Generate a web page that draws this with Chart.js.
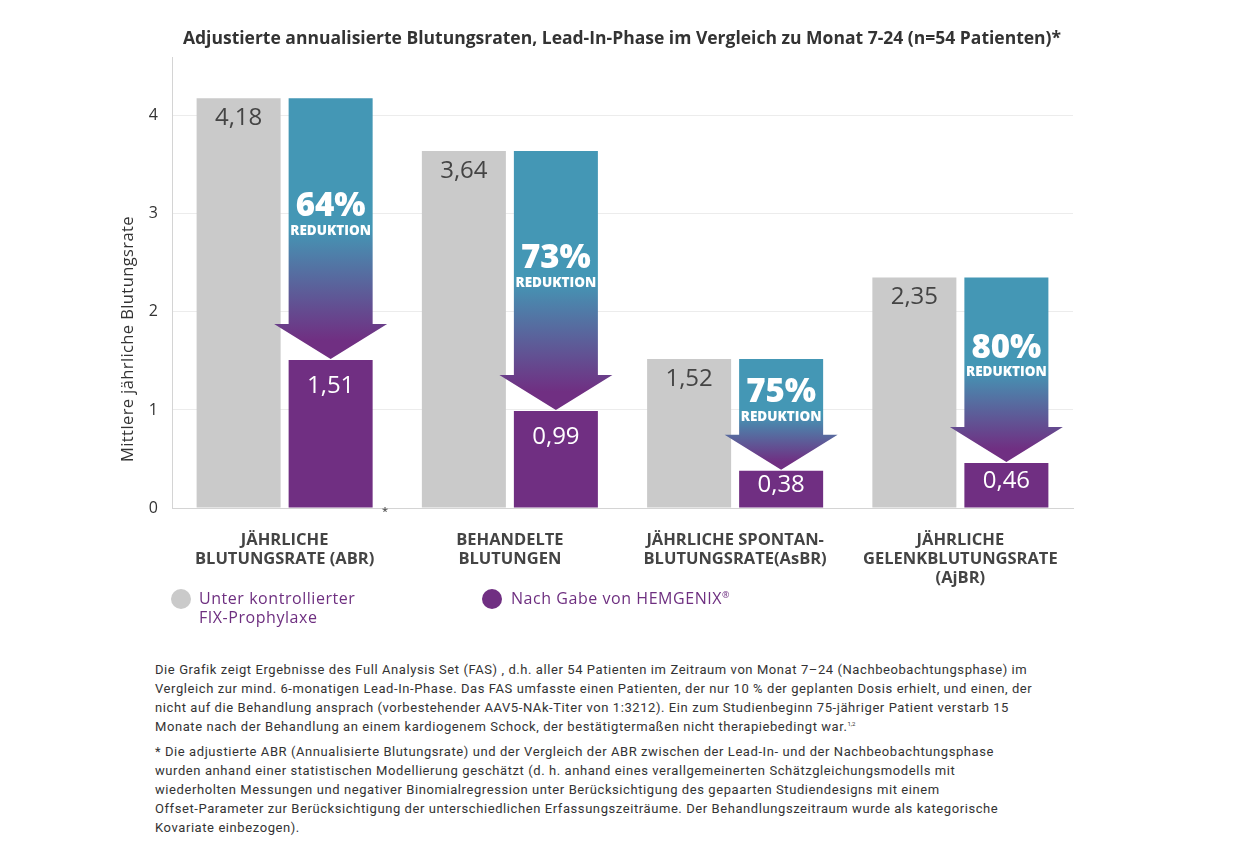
<!DOCTYPE html>
<html><head><meta charset="utf-8">
<script src="https://cdn.jsdelivr.net/npm/chart.js@4.4.0/dist/chart.umd.min.js"></script>
<style>
html,body{margin:0;padding:0;background:#fff;width:1242px;height:858px;overflow:hidden;}
#wrap{position:absolute;left:0;top:0;width:1242px;height:640px;}
#title{position:absolute;left:122px;width:1000px;top:26px;text-align:center;font-family:'Open Sans',sans-serif;font-weight:700;font-size:17.5px;line-height:22px;color:#333;white-space:nowrap;}
.leg{position:absolute;font-family:'Open Sans',sans-serif;font-size:16px;color:#6e2f80;line-height:19px;white-space:nowrap;letter-spacing:0.55px;}
.leg sup{font-size:9px;vertical-align:6px;line-height:0;}
.dot{position:absolute;width:20px;height:20px;border-radius:50%;}
#foot{position:absolute;left:155px;top:660px;font-family:Roboto,sans-serif;font-size:13px;color:#333;line-height:19px;white-space:nowrap;letter-spacing:0.58px;}
#foot p{margin:0 0 6px 0;}
#foot sup{font-size:6px;vertical-align:5px;line-height:0;letter-spacing:0;}
#ast{position:absolute;left:382px;top:503px;font-family:'Open Sans';font-size:11px;color:#333;}
</style></head>
<body>
<div id="wrap"><canvas id="c" width="1242" height="640"></canvas></div>
<div id="title">Adjustierte annualisierte Blutungsraten, Lead-In-Phase im Vergleich zu Monat 7-24 (n=54 Patienten)*</div>
<div id="ast">*</div>
<div class="dot" style="left:171px;top:589px;background:#cacaca"></div>
<div class="leg" style="left:199px;top:589px">Unter kontrollierter<br>FIX-Prophylaxe</div>
<div class="dot" style="left:482px;top:589px;background:#702f82"></div>
<div class="leg" style="left:511px;top:589px">Nach Gabe von HEMGENIX<sup>®</sup></div>
<div id="foot">
<p>Die Grafik zeigt Ergebnisse des Full Analysis Set (FAS) , d.h. aller 54 Patienten im Zeitraum von Monat 7–24 (Nachbeobachtungsphase) im<br>Vergleich zur mind. 6-monatigen Lead-In-Phase. Das FAS umfasste einen Patienten, der nur 10 % der geplanten Dosis erhielt, und einen, der<br>nicht auf die Behandlung ansprach (vorbestehender AAV5-NAk-Titer von 1:3212). Ein zum Studienbeginn 75-jähriger Patient verstarb 15<br>Monate nach der Behandlung an einem kardiogenem Schock, der bestätigtermaßen nicht therapiebedingt war.<sup>1,2</sup></p>
<p>* Die adjustierte ABR (Annualisierte Blutungsrate) und der Vergleich der ABR zwischen der Lead-In- und der Nachbeobachtungsphase<br>wurden anhand einer statistischen Modellierung geschätzt (d. h. anhand eines verallgemeinerten Schätzgleichungsmodells mit<br>wiederholten Messungen und negativer Binomialregression unter Berücksichtigung des gepaarten Studiendesigns mit einem<br>Offset-Parameter zur Berücksichtigung der unterschiedlichen Erfassungszeiträume. Der Behandlungszeitraum wurde als kategorische<br>Kovariate einbezogen).</p>
</div>
<script>
const categories = [
  ["JÄHRLICHE","BLUTUNGSRATE (ABR)"],
  ["BEHANDELTE","BLUTUNGEN"],
  ["JÄHRLICHE SPONTAN-","BLUTUNGSRATE(AsBR)"],
  ["JÄHRLICHE","GELENKBLUTUNGSRATE","(AjBR)"]
];
const beforeValues = [4.18, 3.64, 1.52, 2.35];
const afterValues = [1.51, 0.99, 0.38, 0.46];
const reductionLabels = ["64%","73%","75%","80%"];
const yTicks = [0,1,2,3,4];
const yTitle = 'Mittlere jährliche Blutungsrate';
const seriesNames = ["Unter kontrollierter FIX-Prophylaxe","Nach Gabe von HEMGENIX®"];

const GRAY = '#cacaca', PURPLE = '#702f82', TEAL = '#4497b5';
const fmt = v => v.toFixed(2).replace('.', ',');

const arrowPlugin = {
  id: 'arrows',
  afterDatasetsDraw(chart) {
    const ctx = chart.ctx;
    const ys = chart.scales.y;
    const m0 = chart.getDatasetMeta(0), m1 = chart.getDatasetMeta(1);
    for (let i = 0; i < beforeValues.length; i++) {
      const b1 = m1.data[i], b0 = m0.data[i];
      const x = b1.x, w = b1.width;
      const yTop = ys.getPixelForValue(beforeValues[i]);
      const yTip = ys.getPixelForValue(afterValues[i]) - 1;
      const headH = 35, over = 14.5;
      const yBase = yTip - headH;
      const g = ctx.createLinearGradient(0, yTop, 0, yTip);
      g.addColorStop(0, TEAL);
      g.addColorStop(0.5, TEAL);
      g.addColorStop(0.93, PURPLE);
      g.addColorStop(1, PURPLE);
      ctx.save();
      ctx.fillStyle = g;
      ctx.beginPath();
      ctx.moveTo(x - w/2, yTop);
      ctx.lineTo(x + w/2, yTop);
      ctx.lineTo(x + w/2, yBase);
      ctx.lineTo(x + w/2 + over, yBase);
      ctx.lineTo(x, yTip);
      ctx.lineTo(x - w/2 - over, yBase);
      ctx.lineTo(x - w/2, yBase);
      ctx.closePath();
      ctx.fill();
      const mid = (yTop + yBase) / 2;
      ctx.fillStyle = '#fff';
      ctx.textAlign = 'center';
      ctx.textBaseline = 'middle';
      ctx.font = '800 33px "Open Sans"';
      ctx.fillText(reductionLabels[i], x, mid - 4);
      ctx.font = '800 13.5px "Open Sans"';
      ctx.fillText('REDUKTION', x, mid + 20);
      ctx.font = '400 24px "Open Sans"';
      ctx.fillStyle = '#444';
      ctx.fillText(fmt(beforeValues[i]), b0.x, b0.y + 20);
      const h1 = b1.base - b1.y;
      ctx.fillStyle = '#fff';
      ctx.fillText(fmt(afterValues[i]), b1.x, b1.y + Math.min(h1 * 0.4, 26));
      ctx.restore();
    }
    ctx.save();
    ctx.translate(128, 339);
    ctx.rotate(-Math.PI / 2);
    ctx.fillStyle = '#333';
    ctx.font = '400 16.5px "Open Sans"';
    ctx.letterSpacing = '0.4px';
    ctx.textAlign = 'center';
    ctx.textBaseline = 'middle';
    ctx.fillText(yTitle, 0, 0);
    ctx.restore();
  }
};

new Chart(document.getElementById('c'), {
  type: 'bar',
  data: {
    labels: categories,
    datasets: [
      { label: seriesNames[0], data: beforeValues, backgroundColor: GRAY },
      { label: seriesNames[1], data: afterValues, backgroundColor: PURPLE }
    ]
  },
  options: {
    responsive: false,
    animation: false,
    categoryPercentage: 0.817,
    barPercentage: 0.913,
    layout: { padding: { left: 115, right: 169, top: 57, bottom: 0 } },
    plugins: {
      legend: { display: false },
      tooltip: { enabled: false },
      title: { display: false }
    },
    scales: {
      x: {
        grid: { display: false },
        border: { display: true, color: '#d4d4d4' },
        ticks: {
          color: '#444',
          font: { family: 'Open Sans', size: 16.5, weight: '700', lineHeight: 1.15 },
          padding: 15,
          maxRotation: 0,
          autoSkip: false
        },
        afterFit(s) { s.height = 132; }
      },
      y: {
        min: 0, max: 4.6,
        grid: { color: '#ececec', drawTicks: false },
        border: { display: true, color: '#d4d4d4' },
        ticks: {
          stepSize: 1, includeBounds: false, padding: 14,
          color: '#333', font: { family: 'Open Sans', size: 16 },
          callback: v => yTicks.includes(v) ? String(v) : ''
        },
        title: { display: false },
        afterFit(s) { s.width = 57; }
      }
    }
  },
  plugins: [arrowPlugin]
});
</script>
</body></html>
